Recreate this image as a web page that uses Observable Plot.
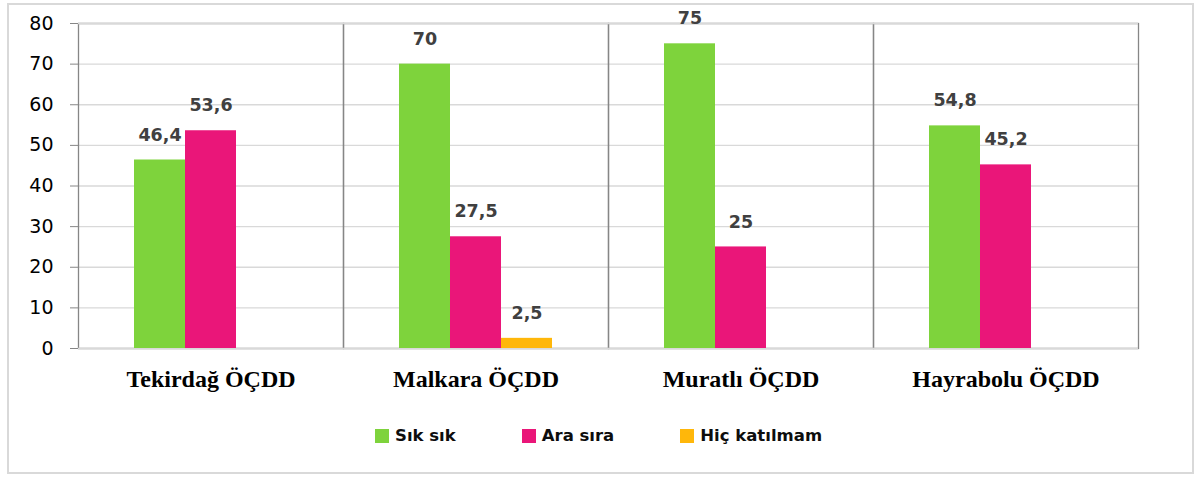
<!DOCTYPE html>
<html>
<head>
<meta charset="utf-8">
<script src="https://cdn.jsdelivr.net/npm/d3@7"></script>
<script src="https://cdn.jsdelivr.net/npm/@observablehq/plot@0.6"></script>
<style>
  html, body { margin: 0; padding: 0; background: #fff; }
  #wrap { position: relative; width: 1200px; height: 477px; overflow: hidden; }
  #border { position: absolute; left: 7px; top: 3px; width: 1183px; height: 467px; border: 2px solid #d9d9d9; box-sizing: content-box; }
  #chart { position: absolute; left: 0; top: 0; }
  #legend { position: absolute; left: 375px; top: 428px; display: flex; gap: 66px; font-family: "DejaVu Sans", sans-serif; font-weight: bold; font-size: 16.5px; color: #0d0d0d; }
  .item { display: flex; align-items: center; gap: 6px; line-height: 16px; }
  .sw { width: 14px; height: 14px; display: inline-block; }
</style>
</head>
<body>
<div id="wrap">
  <div id="border"></div>
  <div id="chart"></div>
  <div id="legend"></div>
</div>
<script>
const categories = ["Tekirdağ ÖÇDD", "Malkara ÖÇDD", "Muratlı ÖÇDD", "Hayrabolu ÖÇDD"];
const series = ["Sık sık", "Ara sıra", "Hiç katılmam"];
const sikSik = [46.4, 70, 75, 54.8];
const araSira = [53.6, 27.5, 25, 45.2];
const hicKatilmam = [0, 2.5, 0, 0];
const colors = ["#7ED33C", "#EA1679", "#FFB70A"];
const yTicks = [0, 10, 20, 30, 40, 50, 60, 70, 80];

const seriesValues = [sikSik, araSira, hicKatilmam];
const data = [];
categories.forEach((c, i) => {
  series.forEach((s, j) => {
    data.push({cat: c, series: s, value: seriesValues[j][i]});
  });
});
const fmt = v => String(v).replace(".", ",");

const chart = Plot.plot({
  width: 1200,
  height: 400,
  marginLeft: 77,
  marginRight: 62,
  marginTop: 23,
  marginBottom: 52,
  style: {background: "transparent", overflow: "visible"},
  fx: {domain: categories, padding: 0, label: null},
  x: {domain: series, paddingInner: 0, paddingOuter: 1.08, axis: null},
  y: {domain: [0, 80], label: null},
  color: {domain: series, range: colors},
  marks: [
    Plot.gridY(yTicks, {stroke: "#d9d9d9", strokeOpacity: 1, strokeWidth: 1.4}),
    Plot.frame({stroke: "#868686", strokeWidth: 1.3}),
    Plot.ruleY([0, 80], {stroke: "#d9d9d9", strokeWidth: 1.6}),
    Plot.barY(data, {fx: "cat", x: "series", y: "value", fill: "series"}),
    Plot.text(data.filter(d => d.value > 0), {
      fx: "cat", x: "series", y: "value", text: d => fmt(d.value),
      dy: -25, fill: "#404040", fontSize: 17.5, fontWeight: "bold", fontFamily: "DejaVu Sans"
    }),
    Plot.axisY({
      ticks: yTicks, tickSize: 8, tickPadding: 17, stroke: "#868686", fill: "#000",
      fontSize: 19, fontFamily: "DejaVu Sans", label: null
    }),
    Plot.axisFx({
      anchor: "bottom", tickSize: 0, tickPadding: 21, fill: "#000",
      fontSize: 24, fontFamily: "Liberation Serif", fontWeight: "bold", label: null
    })
  ]
});
document.getElementById("chart").appendChild(chart);

const legend = document.getElementById("legend");
series.forEach((s, j) => {
  const item = document.createElement("div");
  item.className = "item";
  const sw = document.createElement("span");
  sw.className = "sw";
  sw.style.background = colors[j];
  const t = document.createElement("span");
  t.textContent = s;
  item.appendChild(sw);
  item.appendChild(t);
  legend.appendChild(item);
});
</script>
</body>
</html>
